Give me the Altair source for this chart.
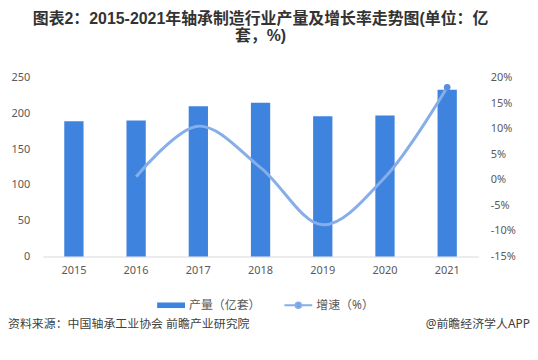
import altair as alt
import pandas as pd

years = ["2015", "2016", "2017", "2018", "2019", "2020", "2021"]
output = [189, 190, 210, 215, 196, 197, 233]
growth = [None, 0.6, 10.5, 2.4, -8.8, 0.5, 18.1]

title_lines = ["图表2：2015-2021年轴承制造行业产量及增长率走势图(单位：亿", "套，%)"]
source_text = "资料来源：中国轴承工业协会 前瞻产业研究院"
brand_text = "@前瞻经济学人APP"
bar_name = "产量（亿套）"
line_name = "增速（%）"

BAR_COLOR = "#3e84df"
LINE_COLOR = "#86aee9"
FONT = "Noto Sans, Noto Sans CJK SC, sans-serif"
TITLE_FONT = "Liberation Sans, Noto Sans CJK SC, sans-serif"

df = pd.DataFrame({"year": years, "output": output, "growth": growth})
line_df = df.dropna()
last_df = line_df.tail(1)

x_enc = alt.X(
    "year:N",
    sort=years,
    scale=alt.Scale(paddingInner=0.69, paddingOuter=0.345),
    axis=alt.Axis(title=None, labelAngle=0, ticks=False, domainColor="#d9d9d9",
                  labelColor="#595959", labelFontSize=11, labelFont=FONT,
                  labelPadding=8, grid=False),
)

bars = alt.Chart(df).mark_bar(color=BAR_COLOR).encode(
    x=x_enc,
    y=alt.Y("output:Q", scale=alt.Scale(domain=[0, 250]),
            axis=alt.Axis(title=None, values=[0, 50, 100, 150, 200, 250], grid=False,
                          domain=False, ticks=False, labelColor="#595959",
                          labelFontSize=11, labelFont=FONT, labelPadding=13)),
    fill=alt.Fill("s:N", scale=alt.Scale(domain=[bar_name], range=[BAR_COLOR]),
                  legend=alt.Legend(title=None, orient="none", legendX=114, legendY=214,
                                    symbolType="M-1,-0.2H1V0.2H-1Z", symbolSize=784,
                                    labelFontSize=12, labelColor="#595959", labelFont=FONT,
                                    labelOffset=3, padding=0)),
).transform_calculate(s="'" + bar_name + "'")

growth_axis = alt.Axis(title=None, orient="right", values=[-15, -10, -5, 0, 5, 10, 15, 20],
                       labelExpr="datum.value + '%'", grid=False, domain=False, ticks=False,
                       labelColor="#595959", labelFontSize=11, labelFont=FONT, labelPadding=12)

line = alt.Chart(line_df).mark_line(interpolate="catmull-rom", strokeWidth=3, color=LINE_COLOR).encode(
    x=alt.X("year:N", sort=years),
    y=alt.Y("growth:Q", scale=alt.Scale(domain=[-15, 20]), axis=growth_axis),
    stroke=alt.Stroke("s:N", scale=alt.Scale(domain=[line_name], range=[LINE_COLOR]),
                      legend=alt.Legend(title=None, orient="none", legendX=242, legendY=214,
                                        symbolType="M-1,0H1M-0.2,0A0.2,0.2 0 1,0 0.2,0A0.2,0.2 0 1,0 -0.2,0Z",
                                        symbolSize=784, symbolStrokeWidth=2,
                                        symbolFillColor="#4a7fd0",
                                        labelFontSize=12, labelColor="#595959", labelFont=FONT,
                                        labelOffset=3, padding=0)),
).transform_calculate(s="'" + line_name + "'")

dot = alt.Chart(last_df).mark_point(filled=True, size=45, color="#5b8fdc", opacity=1).encode(
    x=alt.X("year:N", sort=years),
    y=alt.Y("growth:Q", scale=alt.Scale(domain=[-15, 20]), axis=None),
)

src = alt.Chart(pd.DataFrame({"t": [source_text]})).mark_text(
    align="left", baseline="middle", fontSize=12, font=FONT, color="#404040"
).encode(text="t:N", x=alt.value(-35), y=alt.value(248))

brand = alt.Chart(pd.DataFrame({"t": [brand_text]})).mark_text(
    align="right", baseline="middle", fontSize=12, font=FONT, color="#404040"
).encode(text="t:N", x=alt.value(490), y=alt.value(248))

chart = alt.layer(bars, line, dot, src, brand).resolve_scale(
    y="independent"
).properties(
    width=438,
    height=180,
    autosize=alt.AutoSizeParams(type="none"),
    padding={"left": 35, "top": 69, "right": 52, "bottom": 90},
    title=alt.TitleParams(text=title_lines, anchor="middle", frame="group", fontSize=16,
                          fontWeight="bold", font=TITLE_FONT, color="#333333",
                          offset=28, lineHeight=17),
).configure_view(stroke=None)

chart.save("out.html", embed_options={"renderer": "svg", "actions": False})
